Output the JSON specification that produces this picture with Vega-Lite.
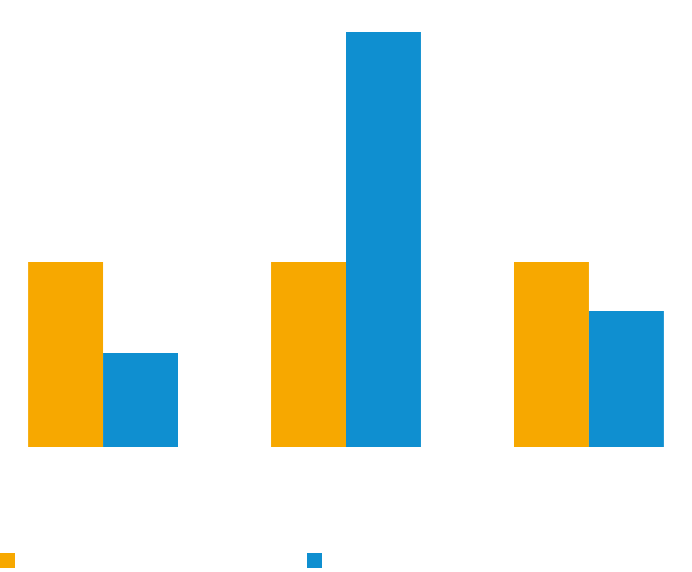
{
  "$schema": "https://vega.github.io/schema/vega-lite/v6.json",
  "width": 692,
  "height": 415,
  "autosize": {"type": "none"},
  "padding": {"top": 32, "left": 0, "right": 0, "bottom": 125},
  "background": "white",
  "data": {
    "values": [
      {"category": "Category 1", "series": "Series 1", "value": 100},
      {"category": "Category 1", "series": "Series 2", "value": 50.8},
      {"category": "Category 2", "series": "Series 1", "value": 100},
      {"category": "Category 2", "series": "Series 2", "value": 224.3},
      {"category": "Category 3", "series": "Series 1", "value": 100},
      {"category": "Category 3", "series": "Series 2", "value": 73.5}
    ]
  },
  "mark": {"type": "bar"},
  "encoding": {
    "x": {
      "field": "category",
      "type": "nominal",
      "sort": null,
      "scale": {"paddingInner": 0.383, "paddingOuter": 0.1157},
      "axis": {"title": null, "labelAngle": 0, "labelColor": "white", "labelFontSize": 14, "domain": false, "ticks": false, "grid": false, "labelPadding": 15}
    },
    "xOffset": {"field": "series", "type": "nominal", "sort": null, "scale": {"paddingInner": 0, "paddingOuter": 0}},
    "y": {
      "field": "value",
      "type": "quantitative",
      "scale": {"domain": [0, 224.3], "nice": false},
      "axis": null
    },
    "color": {
      "field": "series",
      "type": "nominal",
      "scale": {"domain": ["Series 1", "Series 2"], "range": ["#F7A800", "#0F8FD0"]},
      "legend": {
        "title": null,
        "orient": "none",
        "legendX": 0,
        "legendY": 521,
        "direction": "horizontal",
        "symbolType": "square",
        "symbolSize": 225,
        "symbolStrokeWidth": 0,
        "labelColor": "white",
        "labelFontSize": 14,
        "columnPadding": 236
      }
    }
  },
  "config": {"view": {"stroke": null}, "axis": {"grid": false}}
}
